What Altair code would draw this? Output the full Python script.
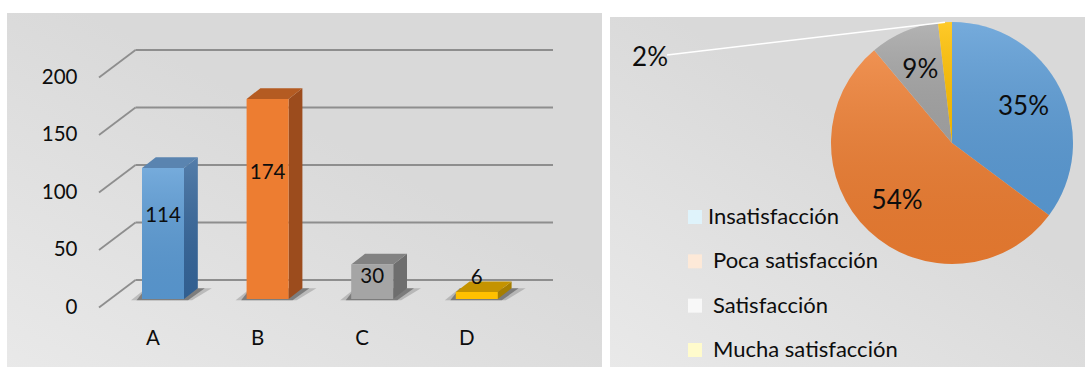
import altair as alt
import pandas as pd

# ---------------- data ----------------
categories = ["A", "B", "C", "D"]
counts = [114, 174, 30, 6]
levels = ["Insatisfacción", "Poca satisfacción", "Satisfacción", "Mucha satisfacción"]
percent_labels = ["35%", "54%", "9%", "2%"]
y_ticks = [0, 50, 100, 150, 200]

# ---------------- styling ----------------
front_colors = ["#5b9bd5", "#ed7d31", "#a5a5a5", "#ffc000"]
side_colors = ["#34659a", "#9c4c1d", "#6e6e6e", "#a67e00"]
top_colors = ["#5a84b0", "#b45b22", "#828282", "#c49300"]
swatch_colors = ["#dff3fb", "#fde9d8", "#f8f8f8", "#fffbcc"]
GRID = "#8e8e8e"
FONT = "Lato"
TXT = "#0d0d0d"

panel_fill = alt.LinearGradient(
    gradient="linear",
    stops=[alt.GradientStop(color="#e9e9e9", offset=0),
           alt.GradientStop(color="#d9d9d9", offset=1)],
    x1=0, y1=1, x2=0.55, y2=0.35,
)
face_shine = alt.LinearGradient(
    gradient="linear",
    stops=[alt.GradientStop(color="rgba(255,255,255,0.16)", offset=0),
           alt.GradientStop(color="rgba(0,0,0,0.06)", offset=1)],
    x1=0, y1=0, x2=0, y2=1,
)

# ---------------- 3-D column panel geometry ----------------
LW, LH = 595, 362
STEP = 104.6        # px between column centres
X0 = 156            # px, centre of first column
PPU = 1.15          # px per count
BASE = 286          # px, zero line of the column fronts
BAR_W = 42          # px, column front width
DX, DY = 13.8, 10.7 # px, column depth
WALL_DY = 19        # px, back wall behind the column fronts
EDGE_DY = 8.5       # px, floor front edge below the column fronts

xs = alt.Scale(domain=[-X0 / STEP, (LW - X0) / STEP], nice=False, zero=False)
ys = alt.Scale(domain=[-(LH - BASE) / PPU, BASE / PPU], nice=False, zero=False)

hw = BAR_W / 2 / STEP
dxu = DX / STEP
dyu = DY / PPU

bars = pd.DataFrame({"cat": categories, "n": counts, "i": range(len(categories))})
bars["x1"] = bars["i"] - hw
bars["x2"] = bars["i"] + hw

side_rows, top_rows, shade_rows = [], [], []
for i, (c, n) in enumerate(zip(categories, counts)):
    x1, x2 = i - hw, i + hw
    side_rows += [dict(cat=c, i=i, sx=x2, lo=0, hi=n),
                  dict(cat=c, i=i, sx=x2 + dxu, lo=dyu, hi=n + dyu)]
    top_rows += [dict(cat=c, ty=n, tx1=x1, tx2=x2),
                 dict(cat=c, ty=n + dyu, tx1=x1 + dxu, tx2=x2 + dxu)]
    for ring, grow in ((0, 1.0), (1, 0.5)):
        shade_rows += [
            dict(cat=c, ring=ring, sy=-1.2 / PPU,
                 sx1=x1 - 11 * grow / STEP, sx2=x2 + 8 * grow / STEP),
            dict(cat=c, ring=ring, sy=dyu,
                 sx1=x1 + 4 / STEP, sx2=x2 + (DX + 14 * grow) / STEP),
        ]
side_df = pd.DataFrame(side_rows)
top_df = pd.DataFrame(top_rows)
shade_df = pd.DataFrame(shade_rows)
grid_df = pd.DataFrame({"t": y_ticks})


def cat_color(rng):
    return alt.Color("cat:N", scale=alt.Scale(domain=categories, range=rng), legend=None)


left_bg = alt.Chart(pd.DataFrame({"k": [0]})).mark_rect(fill=panel_fill).encode(
    x=alt.value(0), x2=alt.value(LW), y=alt.value(0), y2=alt.value(LH)
)

# back-wall grid lines and their diagonal returns to the floor edge
wall_lines = alt.Chart(grid_df).mark_rule(
    color=GRID, strokeWidth=1.8, yOffset=-WALL_DY, y2Offset=-WALL_DY
).encode(
    x=alt.value(128.5), x2=alt.value(546),
    y=alt.Y("t:Q", scale=ys, axis=None), y2="t:Q",
)
wall_diag = alt.Chart(grid_df).mark_rule(
    color=GRID, strokeWidth=1.8, yOffset=EDGE_DY, y2Offset=-WALL_DY
).encode(
    x=alt.value(92), x2=alt.value(128.5),
    y=alt.Y("t:Q", scale=ys, axis=None), y2="t:Q",
)

shadows = [
    alt.Chart(shade_df).transform_filter(f"datum.ring == {r}").mark_area(
        orient="horizontal", color="#333333", opacity=op
    ).encode(
        y=alt.Y("sy:Q", scale=ys, axis=None),
        x=alt.X("sx1:Q", scale=xs, axis=None, stack=None), x2="sx2:Q",
        detail="cat:N",
    )
    for r, op in ((0, 0.22), (1, 0.45))
]

sides = alt.Chart(side_df).mark_area().encode(
    x=alt.X("sx:Q", scale=xs, axis=None),
    y=alt.Y("lo:Q", scale=ys, axis=None, stack=None), y2="hi:Q",
    color=cat_color(side_colors), detail="cat:N",
)
tops = alt.Chart(top_df).mark_area(orient="horizontal").encode(
    y=alt.Y("ty:Q", scale=ys, axis=None),
    x=alt.X("tx1:Q", scale=xs, axis=None, stack=None), x2="tx2:Q",
    color=cat_color(top_colors), detail="cat:N",
)
fronts = alt.Chart(bars).mark_rect().encode(
    x=alt.X("x1:Q", scale=xs, axis=None), x2="x2:Q",
    y=alt.Y("n:Q", scale=ys, axis=None), y2=alt.datum(0),
    color=cat_color(front_colors),
)
# the blue column carries a soft vertical sheen
fronts_shine = alt.Chart(bars).transform_filter("datum.i == 0").mark_rect(fill=face_shine).encode(
    x=alt.X("x1:Q", scale=xs, axis=None), x2="x2:Q",
    y=alt.Y("n:Q", scale=ys, axis=None), y2=alt.datum(0),
)
sides_shine = alt.Chart(side_df).transform_filter("datum.i == 0").mark_area(fill=face_shine).encode(
    x=alt.X("sx:Q", scale=xs, axis=None),
    y=alt.Y("lo:Q", scale=ys, axis=None, stack=None), y2="hi:Q",
    detail="cat:N",
)

value_labels = alt.Chart(bars).transform_calculate(
    ly="max(datum.n * 0.63, 18)"
).mark_text(font=FONT, fontSize=20.5, color=TXT, baseline="middle").encode(
    x=alt.X("i:Q", scale=xs, axis=None),
    y=alt.Y("ly:Q", scale=ys, axis=None),
    text="n:Q",
)
tick_labels = alt.Chart(grid_df).mark_text(
    font=FONT, fontSize=20.5, color=TXT, align="right", baseline="middle", dy=EDGE_DY
).encode(
    x=alt.value(70.5), y=alt.Y("t:Q", scale=ys, axis=None), text="t:Q",
)
cat_labels = alt.Chart(bars).mark_text(
    font=FONT, fontSize=20.5, color=TXT, baseline="middle", dx=-10
).encode(
    x=alt.X("i:Q", scale=xs, axis=None), y=alt.value(326), text="cat:N",
)

left = alt.layer(
    left_bg, wall_lines, wall_diag, *shadows, sides, sides_shine, tops,
    fronts, fronts_shine, value_labels, tick_labels, cat_labels,
).resolve_scale(color="independent").properties(width=LW, height=LH)

# ---------------- pie panel ----------------
RW, RH = 475, 354
CX, CY, R = 342, 126, 121

pie_df = pd.DataFrame({"level": levels, "n": counts, "pct": percent_labels,
                       "i": range(len(levels))})
theta = alt.Theta("n:Q", stack=True)
order = alt.Order("i:Q", sort="ascending")

right_bg = alt.Chart(pd.DataFrame({"k": [0]})).mark_rect(fill=panel_fill).encode(
    x=alt.value(0), x2=alt.value(RW), y=alt.value(0), y2=alt.value(RH)
)
slices = alt.Chart(pie_df).mark_arc(outerRadius=R, x=CX, y=CY).encode(
    theta=theta, order=order,
    color=alt.Color("level:N", scale=alt.Scale(domain=levels, range=front_colors),
                    legend=None),
)
slices_shine = alt.Chart(pie_df).mark_arc(outerRadius=R, x=CX, y=CY, fill=face_shine).encode(
    theta=theta, order=order,
)
pct_text = alt.Chart(pie_df).transform_calculate(
    lab="datum.i < 3 ? datum.pct : ''"
).mark_text(radius=80, x=CX, y=CY, font=FONT, fontSize=26, color=TXT).encode(
    theta=theta, order=order, text="lab:N",
)
leader = alt.Chart(pie_df).transform_window(
    cum="sum(n)", sort=[alt.SortField("i")]
).transform_joinaggregate(total="sum(n)").transform_calculate(
    mid="(datum.cum - datum.n / 2) / datum.total",
    ex=f"{CX} + {R} * sin(2 * PI * datum.mid)",
    ey=f"{CY} - {R} * cos(2 * PI * datum.mid)",
).transform_filter("datum.i == 3").mark_rule(color="white", strokeWidth=1.6).encode(
    x=alt.X("ex:Q", scale=None), y=alt.Y("ey:Q", scale=None),
    x2=alt.value(57), y2=alt.value(38),
)
small_label = alt.Chart(pie_df).transform_filter("datum.i == 3").mark_text(
    font=FONT, fontSize=26, color=TXT, baseline="middle"
).encode(x=alt.value(40), y=alt.value(41), text="pct:N")

# legend: pale swatches with the level names, one row per level
key_y = alt.Y("level:N", axis=None,
              scale=alt.Scale(type="point", domain=levels, range=[200, 333], padding=0))
legend_swatch = alt.Chart(pie_df).mark_square(size=196, opacity=1).encode(
    x=alt.value(85), y=key_y,
    fill=alt.Fill("level:N", scale=alt.Scale(domain=levels, range=swatch_colors), legend=None),
)
legend_text = alt.Chart(pie_df).transform_calculate(
    lx="datum.i == 0 ? 98 : 103"
).mark_text(font=FONT, fontSize=22, color=TXT, align="left", baseline="middle").encode(
    x=alt.X("lx:Q", scale=None), y=key_y, text="level:N",
)

right = alt.layer(
    right_bg, slices, slices_shine, leader, pct_text, small_label,
    legend_swatch, legend_text,
).resolve_scale(x="independent", y="independent").properties(width=RW, height=RH)

chart = alt.hconcat(left, right, spacing=8, bounds="flush", center=True).properties(
    padding={"left": 7, "top": 13, "right": 0, "bottom": 0},
    background="white",
).configure_view(stroke=None)

chart.save("out.html", embed_options={"renderer": "svg", "actions": False})
